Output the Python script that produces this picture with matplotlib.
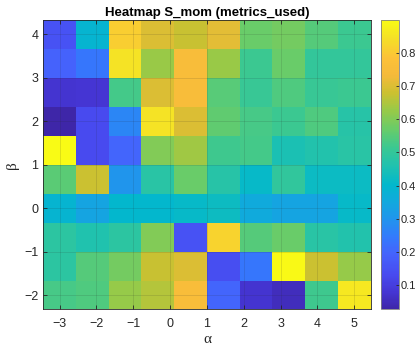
import numpy as np
import matplotlib
matplotlib.use("Agg")
import matplotlib.pyplot as plt
from matplotlib.colors import LinearSegmentedColormap

# grid of parameters
alpha = np.linspace(-3, 5, 10)
beta = np.linspace(4, -2, 10)   # rows listed top (beta=4) to bottom (beta=-2)

# S_mom values
S_mom = np.array([
    [0.150, 0.390, 0.810, 0.700, 0.675, 0.710, 0.570, 0.585, 0.545, 0.515],
    [0.190, 0.235, 0.850, 0.630, 0.750, 0.630, 0.515, 0.570, 0.500, 0.500],
    [0.075, 0.080, 0.525, 0.700, 0.755, 0.550, 0.510, 0.540, 0.510, 0.515],
    [0.026, 0.130, 0.270, 0.850, 0.700, 0.560, 0.530, 0.515, 0.540, 0.475],
    [0.900, 0.130, 0.200, 0.600, 0.635, 0.520, 0.525, 0.450, 0.465, 0.480],
    [0.555, 0.680, 0.300, 0.480, 0.570, 0.475, 0.410, 0.495, 0.420, 0.420],
    [0.390, 0.340, 0.400, 0.400, 0.410, 0.425, 0.355, 0.340, 0.340, 0.410],
    [0.485, 0.460, 0.485, 0.600, 0.150, 0.820, 0.545, 0.570, 0.480, 0.465],
    [0.485, 0.545, 0.585, 0.675, 0.700, 0.140, 0.235, 0.895, 0.680, 0.625],
    [0.530, 0.540, 0.625, 0.655, 0.755, 0.200, 0.075, 0.050, 0.520, 0.860],
])

xticks = [-3, -2, -1, 0, 1, 2, 3, 4, 5]
yticks = [-2, -1, 0, 1, 2, 3, 4]
cbar_ticks = [0.1, 0.2, 0.3, 0.4, 0.5, 0.6, 0.7, 0.8]

# approximation of MATLAB parula
parula_pts = [
    (0.00, (0.2422, 0.1504, 0.6603)),
    (0.06, (0.2700, 0.2100, 0.8300)),
    (0.12, (0.2810, 0.2950, 0.9400)),
    (0.19, (0.2700, 0.3880, 0.9900)),
    (0.25, (0.2000, 0.4800, 0.9900)),
    (0.31, (0.1300, 0.5800, 0.9300)),
    (0.37, (0.0700, 0.6600, 0.8700)),
    (0.43, (0.0100, 0.7200, 0.8000)),
    (0.50, (0.1300, 0.7600, 0.6800)),
    (0.56, (0.2300, 0.7850, 0.5700)),
    (0.62, (0.4000, 0.8000, 0.4200)),
    (0.69, (0.6000, 0.7900, 0.2800)),
    (0.75, (0.8000, 0.7550, 0.1900)),
    (0.81, (0.9600, 0.7300, 0.2300)),
    (0.87, (0.9900, 0.7600, 0.2200)),
    (0.94, (0.9600, 0.8800, 0.1500)),
    (1.00, (0.9769, 0.9839, 0.0805)),
]
parula = LinearSegmentedColormap.from_list("parula", parula_pts, N=256)

plt.rcParams['font.family'] = ['Liberation Sans', 'DejaVu Sans']
dark = (0.15, 0.15, 0.15)

fig = plt.figure(figsize=(4.17, 3.49), dpi=100)
ax = fig.add_axes([0.1038, 0.1132, 0.785, 0.8295])
cax = fig.add_axes([0.913, 0.1132, 0.0432, 0.8295])

mesh = ax.pcolormesh(alpha, beta, S_mom, cmap=parula, shading='nearest')
dx = alpha[1] - alpha[0]
dy = beta[0] - beta[1]
ax.set_xlim(alpha[0] - dx / 2, alpha[-1] + dx / 2)
ax.set_ylim(beta[-1] - dy / 2, beta[0] + dy / 2)

ax.set_xticks(xticks)
ax.set_yticks(yticks)
ax.tick_params(direction='in', length=3, width=0.6, colors=dark, labelsize=9,
               top=True, right=True)
ax.tick_params(axis='x', pad=6)
ax.set_axisbelow(False)
ax.grid(True, color=dark, alpha=0.15, linewidth=0.6)
for s in ax.spines.values():
    s.set_color(dark)
    s.set_linewidth(0.6)

ax.set_title('Heatmap S_mom (metrics_used)', fontsize=9.5, fontweight='bold',
             color='black', pad=3)
ax.set_xlabel('α', family=['Liberation Serif', 'DejaVu Serif'], fontsize=11,
              color=dark, labelpad=2)
ax.set_ylabel('β', family=['Liberation Serif', 'DejaVu Serif'], fontsize=11,
              color=dark, labelpad=4)

cb = fig.colorbar(mesh, cax=cax, ticks=cbar_ticks)
cb.ax.tick_params(direction='in', length=2.5, width=0.6, colors=dark,
                  labelsize=8, pad=1.5)
cb.outline.set_edgecolor((0.5, 0.5, 0.5))
cb.outline.set_linewidth(0.6)

fig.savefig('out.png', dpi=100)
